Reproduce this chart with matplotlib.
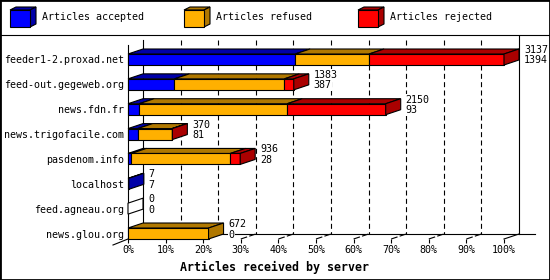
import matplotlib.pyplot as plt
from matplotlib.patches import Polygon, Rectangle, Patch
from matplotlib.legend_handler import HandlerBase
from matplotlib.lines import Line2D

plt.rcParams['font.family'] = 'DejaVu Sans Mono'
plt.rcParams['font.size'] = 7.2

servers = ['feeder1-2.proxad.net', 'feed-out.gegeweb.org', 'news.fdn.fr',
           'news.trigofacile.com', 'pasdenom.info', 'localhost',
           'feed.agneau.org', 'news.glou.org']
accepted = [1394, 387, 93, 81, 28, 7, 0, 0]
refused = [617, 917, 1235, 287, 826, 0, 0, 672]
rejected = [1126, 79, 822, 2, 82, 0, 0, 0]

series = ['Articles accepted', 'Articles refused', 'Articles rejected']
colors = ['#0000ff', '#ffb000', '#ff0000']
darks = ['#0000a8', '#b07800', '#aa0000']
ticks = list(range(0, 101, 10))
tick_labels = ['%d%%' % t for t in ticks]

# fake 3d depth, in data units (15px across, 5px up)
DX = 15 / 3.76
DY = 5 / 24.857
H = 0.221
YTOP, YBOT = -0.583, 7.221

fig = plt.figure(figsize=(5.5, 2.8), dpi=100)
ax = fig.add_axes([128 / 550, 41 / 280, 376 / 550, 194 / 280])
ax.set_xlim(0, 100)
ax.set_ylim(YBOT, YTOP)

totals = [a + b + c for a, b, c in zip(accepted, refused, rejected)]
top = max(totals)

# back walls, floor, grid
lk = dict(color='black', lw=0.8, zorder=1, clip_on=False)
ax.plot([DX, DX], [YTOP - DY, YBOT - DY], **lk)
ax.plot([100 + DX, 100 + DX], [-0.945, YBOT - DY], **lk)
ax.plot([DX, 108.2], [YBOT - DY, YBOT - DY], **lk)
ax.plot([0, -DX], [YBOT, YBOT + 1.2 * DY], **lk)
ax.plot([100, 100 + DX], [YBOT, YBOT - DY], **lk)
for t in ticks[1:-1]:
    ax.plot([t + DX, t + DX], [YTOP - DY, YBOT - DY], color='black', lw=0.8,
            ls=(0, (4.5, 3)), zorder=1, clip_on=False)
    ax.plot([t, t + DX], [YBOT, YBOT - DY], color='black', lw=0.8,
            ls=(0, (6, 2)), zorder=1, clip_on=False)

for i in range(len(servers)):
    vals = [accepted[i], refused[i], rejected[i]]
    yt, yb = i - H, i + H
    x0 = 0
    last = None
    for j, v in enumerate(vals):
        if v == 0:
            continue
        x1 = x0 + v / top * 100
        ax.add_patch(Rectangle((x0, yt), x1 - x0, 2 * H, fc=colors[j], ec='black',
                               lw=0.8, zorder=3, clip_on=False))
        ax.add_patch(Polygon([(x0, yt), (x1, yt), (x1 + DX, yt - DY), (x0 + DX, yt - DY)],
                             fc=darks[j], ec='black', lw=0.8, zorder=3, clip_on=False))
        x0 = x1
        last = j
    side = darks[last] if last is not None else 'white'
    ax.add_patch(Polygon([(x0, yt), (x0 + DX, yt - DY), (x0 + DX, yb - DY), (x0, yb)],
                         fc=side, ec='black', lw=0.8, zorder=3, clip_on=False))
    tx = totals[i] / top * 100 + DX + 1.3
    box = dict(fc='white', ec='none', pad=0.4)
    ax.text(tx, i - 0.38, str(totals[i]), va='center', ha='left', bbox=box, zorder=4)
    ax.text(tx, i + 0.04, str(accepted[i]), va='center', ha='left', bbox=box, zorder=4)

for s in ['top', 'right', 'bottom']:
    ax.spines[s].set_visible(False)
ax.spines['left'].set_linewidth(0.8)
ax.set_yticks(range(len(servers)), servers)
ax.tick_params(axis='y', length=0, pad=2.9)
ax.set_xticks(ticks, tick_labels)
ax.tick_params(axis='x', length=3, width=0.8, pad=1.5)
ax.patch.set_visible(False)

fig.text(0.5, 1 - 267 / 280, 'Articles received by server', ha='center', va='center',
         fontsize=8.4, fontweight='bold')


class CubeHandler(HandlerBase):
    def create_artists(self, legend, orig_handle, xdescent, ydescent, width, height,
                       fontsize, trans):
        face = orig_handle.get_facecolor()
        dark = darks[[Patch(facecolor=c).get_facecolor() for c in colors].index(face)]
        x0, y0, w, h = -xdescent, -ydescent, width, height
        dx, dy = w * 6 / 26, h * 3 / 20
        kw = dict(ec='black', lw=0.8, transform=trans)
        front = Rectangle((x0, y0), w - dx, h - dy, fc=face, **kw)
        topf = Polygon([(x0, y0 + h - dy), (x0 + w - dx, y0 + h - dy), (x0 + w, y0 + h),
                        (x0 + dx, y0 + h)], fc=dark, **kw)
        sidef = Polygon([(x0 + w - dx, y0), (x0 + w, y0 + dy), (x0 + w, y0 + h),
                         (x0 + w - dx, y0 + h - dy)], fc=dark, **kw)
        return [topf, sidef, front]


# one legend per entry so columns sit on a fixed 174px pitch
for k, (c, s) in enumerate(zip(colors, series)):
    leg = fig.legend(handles=[Patch(facecolor=c, label=s)],
                     handler_map={Patch: CubeHandler()},
                     loc='upper left', bbox_to_anchor=((10 + 174 * k) / 550, 1 - 7 / 280),
                     frameon=False, handlelength=2.6, handleheight=2.7,
                     handletextpad=0.6, borderpad=0, borderaxespad=0)

fig.add_artist(Rectangle((0, 0), 1, 1, transform=fig.transFigure, fill=False,
                         ec='black', lw=2))
fig.add_artist(Line2D([0, 1], [1 - 35 / 280] * 2, transform=fig.transFigure,
                      color='black', lw=0.8))

plt.savefig('out.png', dpi=100)
